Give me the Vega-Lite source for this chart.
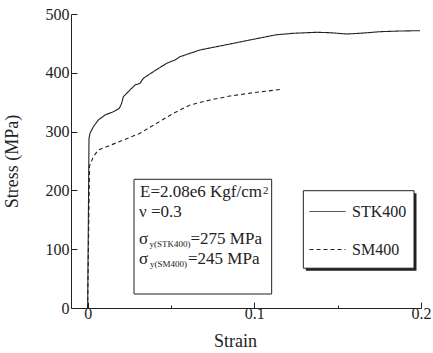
{
  "$schema": "https://vega.github.io/schema/vega-lite/v6.json",
  "width": 350,
  "height": 294,
  "autosize": "none",
  "padding": {"left": 71, "top": 14, "right": 12, "bottom": 45},
  "background": "white",
  "config": {
    "view": {"stroke": null},
    "font": "Liberation Serif",
    "axis": {"labelFont": "Liberation Serif", "titleFont": "Liberation Serif"},
    "legend": {"labelFont": "Liberation Serif"},
    "text": {"font": "Liberation Serif"}
  },
  "datasets": {
    "curves": [
      {"steel": "STK400", "strain": 0, "stress": 0},
      {"steel": "STK400", "strain": 0.0008, "stress": 288.6},
      {"steel": "STK400", "strain": 0.0014, "stress": 297.1},
      {"steel": "STK400", "strain": 0.0034, "stress": 308.3},
      {"steel": "STK400", "strain": 0.0064, "stress": 319.7},
      {"steel": "STK400", "strain": 0.0104, "stress": 328.2},
      {"steel": "STK400", "strain": 0.0154, "stress": 333.8},
      {"steel": "STK400", "strain": 0.019, "stress": 339.6},
      {"steel": "STK400", "strain": 0.0204, "stress": 348.1},
      {"steel": "STK400", "strain": 0.0214, "stress": 359.4},
      {"steel": "STK400", "strain": 0.0244, "stress": 367.9},
      {"steel": "STK400", "strain": 0.0284, "stress": 379.3},
      {"steel": "STK400", "strain": 0.0314, "stress": 382.1},
      {"steel": "STK400", "strain": 0.0334, "stress": 390.6},
      {"steel": "STK400", "strain": 0.0394, "stress": 401.9},
      {"steel": "STK400", "strain": 0.0474, "stress": 416.2},
      {"steel": "STK400", "strain": 0.0524, "stress": 421.8},
      {"steel": "STK400", "strain": 0.0554, "stress": 427.4},
      {"steel": "STK400", "strain": 0.0674, "stress": 438.8},
      {"steel": "STK400", "strain": 0.0854, "stress": 449.0},
      {"steel": "STK400", "strain": 0.0994, "stress": 457.0},
      {"steel": "STK400", "strain": 0.1134, "stress": 464.8},
      {"steel": "STK400", "strain": 0.1234, "stress": 467.2},
      {"steel": "STK400", "strain": 0.1374, "stress": 468.9},
      {"steel": "STK400", "strain": 0.1454, "stress": 468.2},
      {"steel": "STK400", "strain": 0.1554, "stress": 466.0},
      {"steel": "STK400", "strain": 0.1634, "stress": 467.2},
      {"steel": "STK400", "strain": 0.1754, "stress": 469.9},
      {"steel": "STK400", "strain": 0.1874, "stress": 471.1},
      {"steel": "STK400", "strain": 0.1994, "stress": 471.6},
      {"steel": "SM400", "strain": 0, "stress": 0},
      {"steel": "SM400", "strain": 0.0011, "stress": 241.5},
      {"steel": "SM400", "strain": 0.0034, "stress": 257.3},
      {"steel": "SM400", "strain": 0.0064, "stress": 268.7},
      {"steel": "SM400", "strain": 0.0114, "stress": 274.3},
      {"steel": "SM400", "strain": 0.0214, "stress": 285.7},
      {"steel": "SM400", "strain": 0.0314, "stress": 297.1},
      {"steel": "SM400", "strain": 0.0414, "stress": 314.1},
      {"steel": "SM400", "strain": 0.0514, "stress": 331.1},
      {"steel": "SM400", "strain": 0.0614, "stress": 345.2},
      {"steel": "SM400", "strain": 0.0734, "stress": 353.7},
      {"steel": "SM400", "strain": 0.0854, "stress": 360.5},
      {"steel": "SM400", "strain": 0.0994, "stress": 366.2},
      {"steel": "SM400", "strain": 0.1164, "stress": 371.9}
    ]
  },
  "layer": [
    {
      "data": {"name": "curves"},
      "mark": {"type": "line", "color": "#222", "strokeWidth": 1.1},
      "encoding": {
        "x": {
          "field": "strain", "type": "quantitative",
          "scale": {"domain": [-0.01, 0.2], "nice": false, "zero": false},
          "axis": {
            "title": "Strain",
            "values": [0, 0.05, 0.1, 0.15, 0.2],
            "format": "~g",
            "labelExpr": "datum.value == 0.05 || datum.value == 0.15 ? '' : datum.label",
            "grid": false,
            "domainColor": "#222",
            "tickColor": "#222",
            "tickSize": {"condition": {"test": "datum.value == 0.05 || datum.value == 0.15", "value": -3}, "value": -6},
            "labelPadding": 3,
            "labelFont": "Liberation Serif",
            "labelFontSize": 16,
            "labelColor": "#222",
            "labelFlush": false,
            "titleFont": "Liberation Serif",
            "titleFontSize": 18,
            "titleFontWeight": "normal",
            "titleColor": "#222",
            "titlePadding": 11,
            "titleX": 164
          }
        },
        "y": {
          "field": "stress", "type": "quantitative",
          "scale": {"domain": [0, 500], "nice": false},
          "axis": {
            "title": "Stress (MPa)",
            "values": [0, 50, 100, 150, 200, 250, 300, 350, 400, 450, 500],
            "labelExpr": "datum.value % 100 == 0 ? datum.label : ''",
            "grid": false,
            "domainColor": "#222",
            "tickColor": "#222",
            "tickSize": {"condition": {"test": "datum.value % 100 != 0", "value": -3}, "value": -6},
            "labelPadding": 8,
            "labelFont": "Liberation Serif",
            "labelFontSize": 16,
            "labelColor": "#222",
            "labelFlush": false,
            "titleFont": "Liberation Serif",
            "titleFontSize": 18,
            "titleFontWeight": "normal",
            "titleColor": "#222",
            "titlePadding": 24
          }
        },
        "strokeDash": {
          "field": "steel", "type": "nominal",
          "scale": {"domain": ["STK400", "SM400"], "range": [[1, 0], [4, 3]]},
          "legend": {
            "orient": "none", "legendX": 238, "legendY": 179, "title": null,
            "symbolType": "stroke", "symbolSize": 1296, "symbolStrokeWidth": 1,
            "symbolStrokeColor": "#222", "labelFontSize": 16, "labelFont": "Liberation Serif",
            "labelColor": "#222", "labelOffset": 6, "rowPadding": 11, "padding": 0
          }
        }
      }
    },
    {
      "data": {"values": [{}]},
      "mark": {"type": "rect", "fill": "#222"},
      "encoding": {
        "x": {"datum": 0.1309, "type": "quantitative"}, "x2": {"datum": 0.1973},
        "y": {"datum": 63.4, "type": "quantitative"}, "y2": {"datum": 195.2}
      }
    },
    {
      "data": {"values": [{}]},
      "mark": {"type": "rect", "fill": "white", "stroke": "#222", "strokeWidth": 1},
      "encoding": {
        "x": {"datum": 0.1294, "type": "quantitative"}, "x2": {"datum": 0.1958},
        "y": {"datum": 67.7, "type": "quantitative"}, "y2": {"datum": 199.5}
      }
    },
    {
      "data": {"values": [{}]},
      "mark": {"type": "rect", "fill": "white", "stroke": "#222", "strokeWidth": 1},
      "encoding": {
        "x": {"datum": 0.0278, "type": "quantitative"}, "x2": {"datum": 0.1104},
        "y": {"datum": 23.8, "type": "quantitative"}, "y2": {"datum": 218.9}
      }
    },
    {
      "data": {"values": [{}]},
      "mark": {"type": "text", "text": "E=2.08e6 Kgf/cm", "font": "Liberation Serif", "align": "left", "baseline": "alphabetic", "fontSize": 17, "color": "#222"},
      "encoding": {"x": {"datum": 0.0314, "type": "quantitative"}, "y": {"datum": 188.3, "type": "quantitative"}}
    },
    {
      "data": {"values": [{}]},
      "mark": {"type": "text", "text": "2", "font": "Liberation Serif", "align": "left", "baseline": "alphabetic", "fontSize": 11, "color": "#222"},
      "encoding": {"x": {"datum": 0.1052, "type": "quantitative"}, "y": {"datum": 194.4, "type": "quantitative"}}
    },
    {
      "data": {"values": [{}]},
      "mark": {"type": "text", "text": "ν =0.3", "font": "Liberation Serif", "align": "left", "baseline": "alphabetic", "fontSize": 17, "color": "#222"},
      "encoding": {"x": {"datum": 0.0308, "type": "quantitative"}, "y": {"datum": 155.3, "type": "quantitative"}}
    },
    {
      "data": {"values": [{}]},
      "mark": {"type": "text", "text": "σ", "font": "Liberation Serif", "align": "left", "baseline": "alphabetic", "fontSize": 17, "color": "#222"},
      "encoding": {"x": {"datum": 0.0308, "type": "quantitative"}, "y": {"datum": 108.8, "type": "quantitative"}}
    },
    {
      "data": {"values": [{}]},
      "mark": {"type": "text", "text": "y(STK400)", "font": "Liberation Serif", "align": "left", "baseline": "alphabetic", "fontSize": 9, "color": "#222"},
      "encoding": {"x": {"datum": 0.0371, "type": "quantitative"}, "y": {"datum": 103.7, "type": "quantitative"}}
    },
    {
      "data": {"values": [{}]},
      "mark": {"type": "text", "text": "=275 MPa", "font": "Liberation Serif", "align": "left", "baseline": "alphabetic", "fontSize": 17, "color": "#222"},
      "encoding": {"x": {"datum": 0.0617, "type": "quantitative"}, "y": {"datum": 108.8, "type": "quantitative"}}
    },
    {
      "data": {"values": [{}]},
      "mark": {"type": "text", "text": "σ", "font": "Liberation Serif", "align": "left", "baseline": "alphabetic", "fontSize": 17, "color": "#222"},
      "encoding": {"x": {"datum": 0.0308, "type": "quantitative"}, "y": {"datum": 74.3, "type": "quantitative"}}
    },
    {
      "data": {"values": [{}]},
      "mark": {"type": "text", "text": "y(SM400)", "font": "Liberation Serif", "align": "left", "baseline": "alphabetic", "fontSize": 9, "color": "#222"},
      "encoding": {"x": {"datum": 0.0374, "type": "quantitative"}, "y": {"datum": 69.7, "type": "quantitative"}}
    },
    {
      "data": {"values": [{}]},
      "mark": {"type": "text", "text": "=245 MPa", "font": "Liberation Serif", "align": "left", "baseline": "alphabetic", "fontSize": 17, "color": "#222"},
      "encoding": {"x": {"datum": 0.0602, "type": "quantitative"}, "y": {"datum": 74.3, "type": "quantitative"}}
    }
  ]
}
